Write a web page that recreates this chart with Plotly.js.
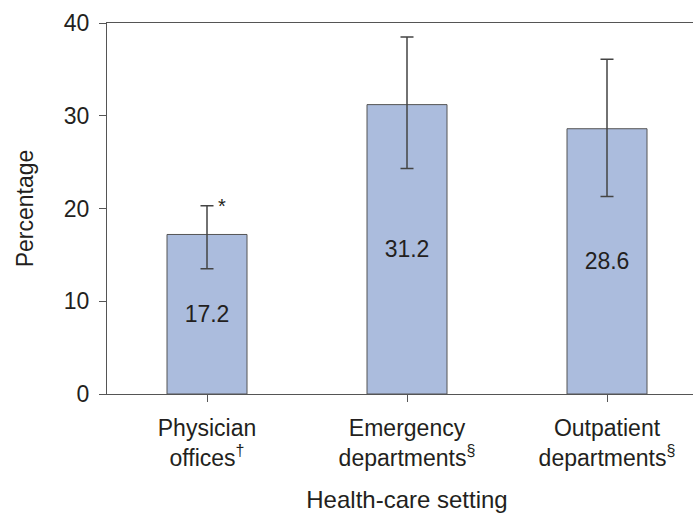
<!DOCTYPE html>
<html>
<head>
<meta charset="utf-8">
<script src="https://cdn.plot.ly/plotly-3.0.1.min.js"></script>
<style>
html, body { margin: 0; padding: 0; overflow: hidden; background: #fff; }
#chart { width: 713px; height: 515px; }
</style>
</head>
<body>
<div id="chart"></div>
<script>
const categories = ["Physician<br>offices<sup>†</sup>", "Emergency<br>departments<sup>§</sup>", "Outpatient<br>departments<sup>§</sup>"];
const percentages = [17.2, 31.2, 28.6];
const ciUpper = [20.3, 38.5, 36.1];
const ciLower = [13.5, 24.3, 21.3];
const yTicks = [0, 10, 20, 30, 40];
const significanceMarks = ["*", "", ""];

const errPlus = percentages.map((v, i) => +(ciUpper[i] - v).toFixed(2));
const errMinus = percentages.map((v, i) => +(v - ciLower[i]).toFixed(2));

const FONT = "Liberation Sans, Arial, Helvetica, sans-serif";
const TXT = "#231f20";

const trace = {
  type: "bar",
  x: categories,
  y: percentages,
  width: 0.4,
  marker: { color: "#abbcdd", line: { color: "#555555", width: 1 } },
  error_y: {
    type: "data", symmetric: false, array: errPlus, arrayminus: errMinus,
    color: "#444444", thickness: 1.5, width: 6.5
  },
  texttemplate: "%{y:.1f}",
  textposition: "inside",
  insidetextanchor: "middle",
  constraintext: "none",
  textfont: { family: FONT, size: 23, color: TXT },
  hoverinfo: "none"
};

const annotations = [];
significanceMarks.forEach((m, i) => {
  if (m) {
    annotations.push({
      x: categories[i], y: ciUpper[i], xref: "x", yref: "y",
      text: m, showarrow: false, xanchor: "left", yanchor: "middle",
      xshift: 9, yshift: 0,
      font: { family: FONT, size: 20, color: TXT }
    });
  }
});

const layout = {
  width: 713, height: 515,
  margin: { l: 107, r: 6, t: 23, b: 121 },
  paper_bgcolor: "#ffffff", plot_bgcolor: "#ffffff",
  showlegend: false,
  font: { family: FONT, size: 23, color: TXT },
  xaxis: {
    type: "category", range: [-0.5, 2.5],
    showline: true, linecolor: "#555555", linewidth: 1, mirror: true,
    ticks: "outside", ticklen: 7, tickcolor: "#555555",
    showgrid: false, zeroline: false,
    tickfont: { family: FONT, size: 23, color: TXT },
    ticklabelstandoff: 6,
    title: { text: "Health-care setting", font: { family: FONT, size: 24, color: TXT }, standoff: 21 }
  },
  yaxis: {
    range: [0, 40], tickvals: yTicks,
    showline: true, linecolor: "#555555", linewidth: 1,
    ticks: "outside", ticklen: 7, tickcolor: "#555555",
    showgrid: false, zeroline: false,
    tickfont: { family: FONT, size: 23, color: TXT },
    ticklabelstandoff: 5,
    title: { text: "Percentage", font: { family: FONT, size: 23, color: TXT }, standoff: 23 }
  },
  annotations: annotations
};

Plotly.newPlot("chart", [trace], layout, { staticPlot: true, displayModeBar: false });
</script>
</body>
</html>
